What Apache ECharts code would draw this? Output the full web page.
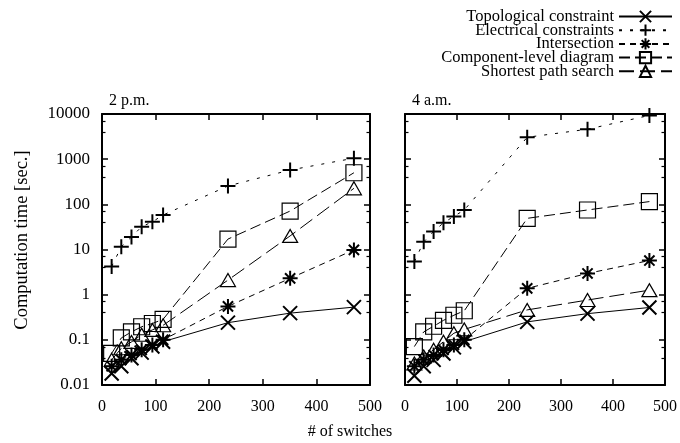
<!DOCTYPE html>
<html><head><meta charset="utf-8">
<script src="https://cdn.jsdelivr.net/npm/echarts@6/dist/echarts.min.js"></script>
<style>html,body{margin:0;padding:0;background:#fff}#c{width:680px;height:443px}</style>
</head><body><div id="c"></div>
<script>
const switches = [18, 36, 55, 74, 94, 114, 235, 351, 470];
const seriesNames = ['Topological constraint','Electrical constraints','Intersection','Component-level diagram','Shortest path search'];
const panelTitles = ['2 p.m.', '4 a.m.'];
const yTicks = [0.01, 0.1, 1, 10, 100, 1000, 10000];
const xTicks = [0, 100, 200, 300, 400, 500];
// 2 p.m.
const pm_topological = [0.018, 0.026, 0.039, 0.052, 0.071, 0.091, 0.24, 0.39, 0.53];
const pm_electrical  = [4.2, 11.5, 19, 32, 41, 58, 255, 575, 1050];
const pm_intersection= [0.026, 0.036, 0.046, 0.06, 0.077, 0.1, 0.55, 2.3, 9.8];
const pm_component   = [0.05, 0.11, 0.15, 0.195, 0.23, 0.285, 17, 71, 500];
const pm_shortest    = [0.036, 0.065, 0.09, 0.13, 0.166, 0.21, 2.1, 20, 226];
// 4 a.m.
const am_topological = [0.016, 0.026, 0.036, 0.05, 0.068, 0.091, 0.25, 0.38, 0.52];
const am_electrical  = [5.4, 14.8, 25, 39, 54, 75, 3050, 4600, 9300];
const am_intersection= [0.026, 0.036, 0.046, 0.06, 0.077, 0.1, 1.38, 2.95, 5.7];
const am_component   = [0.071, 0.15, 0.2, 0.27, 0.35, 0.44, 49, 75, 115];
const am_shortest    = [0.03, 0.043, 0.06, 0.091, 0.14, 0.17, 0.46, 0.76, 1.26];

const FONT = 'Liberation Serif';
const symX = 'path://M0,0L10,10M10,0L0,10';
const symPlus = 'path://M5,0L5,10M0,5L10,5';
const symAst = 'path://M5,0L5,10M0,5L10,5M1.6,1.6L8.4,8.4M8.4,1.6L1.6,8.4';
const styles = [
  {symbol: symX, size: 14, dash: 'solid', fill: '#000', bw: 2},
  {symbol: symPlus, size: 15, dash: [3, 8], fill: '#000', bw: 2},
  {symbol: symAst, size: 15, dash: [6, 5], fill: '#000', bw: 2},
  {symbol: 'rect', size: 16, dash: [11, 5], fill: 'rgba(0,0,0,0)', bw: 1.2},
  {symbol: 'triangle', size: [15, 13], dash: [15, 6], fill: 'rgba(0,0,0,0)', bw: 1.2}
];
const panels = [
  [pm_topological, pm_electrical, pm_intersection, pm_component, pm_shortest],
  [am_topological, am_electrical, am_intersection, am_component, am_shortest]
];
function fmt(v){ const e = Math.round(Math.log10(v)); return e >= 0 ? String(Math.pow(10, e)) : Math.pow(10, e).toFixed(-e); }

const grids = [
  {left: 102, top: 114, width: 268, height: 271},
  {left: 405, top: 114, width: 270, height: 271}
];
const xAxes = [], yAxes = [], series = [];
grids.forEach((g, gi) => {
  const common = {min: 0, max: 500, interval: 100, gridIndex: gi, type: 'value',
    axisLine: {show: true, onZero: false, lineStyle: {color: '#000', width: 2}},
    axisTick: {show: true, inside: true, length: 6, lineStyle: {color: '#000', width: 1.5}},
    splitLine: {show: false}};
  xAxes.push(Object.assign({}, common, {position: 'bottom',
    axisLabel: {show: true, color: '#000', fontFamily: FONT, fontSize: 16, margin: 14,
      formatter: v => xTicks.includes(v) ? String(v) : ''}}));
  xAxes.push(Object.assign({}, common, {position: 'top', axisLabel: {show: false}}));
  const yc = {type: 'log', logBase: 10, min: 0.01, max: 10000, gridIndex: gi,
    axisLine: {show: true, onZero: false, lineStyle: {color: '#000', width: 2}},
    axisTick: {show: true, inside: true, length: 6, lineStyle: {color: '#000', width: 1.5}},
    minorTick: {show: true, splitNumber: 3, length: 3.5, lineStyle: {color: '#000', width: 1.2}},
    splitLine: {show: false}};
  yAxes.push(Object.assign({}, yc, {position: 'left',
    axisLabel: {show: gi === 0, color: '#000', fontFamily: FONT, fontSize: 17, margin: 12,
      formatter: v => fmt(v)}}));
  yAxes.push(Object.assign({}, yc, {position: 'right', axisLabel: {show: false}}));
  panels[gi].forEach((vals, si) => {
    const st = styles[si];
    series.push({
      type: 'line', name: seriesNames[si], xAxisIndex: gi * 2, yAxisIndex: gi * 2,
      data: switches.map((x, i) => [x, vals[i]]),
      symbol: st.symbol, symbolSize: st.size, showSymbol: true, clip: false,
      itemStyle: {color: st.fill, borderColor: '#000', borderWidth: st.bw},
      lineStyle: {color: '#000', width: 1, type: st.dash},
      emphasis: {disabled: true}, animation: false, z: 2 + si
    });
  });
});

const chart = echarts.init(document.getElementById('c'), null, {renderer: 'canvas'});
chart.setOption({
  animation: false,
  backgroundColor: '#fff',
  textStyle: {fontFamily: FONT},
  title: [
    {text: panelTitles[0], left: 109, top: 93, padding: 0, textStyle: {color: '#000', fontFamily: FONT, fontSize: 16, fontWeight: 'normal'}},
    {text: panelTitles[1], left: 412, top: 93, padding: 0, textStyle: {color: '#000', fontFamily: FONT, fontSize: 16, fontWeight: 'normal'}}
  ],
  legend: {
    data: seriesNames, orient: 'vertical', right: 7, top: 8, align: 'right', padding: 0,
    itemWidth: 53, itemHeight: 14, itemGap: -3.3, selectedMode: false,
    textStyle: {color: '#000', fontFamily: FONT, fontSize: 16.5, padding: [0, 0, 0, 0]}
  },
  grid: grids,
  xAxis: xAxes,
  yAxis: yAxes,
  graphic: [
    {type: 'text', x: 350, y: 432, style: {text: '# of switches', fill: '#000', font: '16px "Liberation Serif"', textAlign: 'center', textVerticalAlign: 'middle'}},
    {type: 'text', x: 22, y: 240, rotation: Math.PI / 2, style: {text: 'Computation time [sec.]', fill: '#000', font: '18.5px "Liberation Serif"', textAlign: 'center', textVerticalAlign: 'middle'}}
  ],
  series: series
});
</script></body></html>
